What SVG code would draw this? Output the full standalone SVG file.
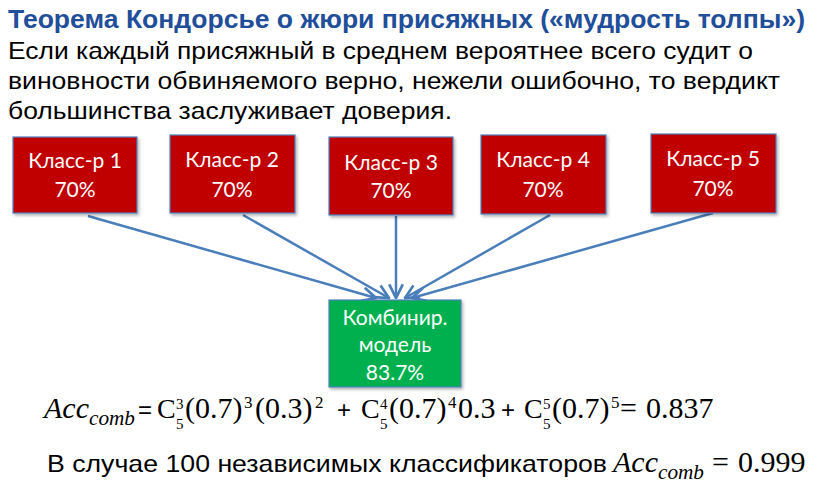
<svg xmlns="http://www.w3.org/2000/svg" width="821" height="483" viewBox="0 0 821 483">
<style>
.title{font-family:"Liberation Sans",Arial,sans-serif;font-weight:bold;font-size:25px;fill:#1F4E9A}
.body{font-family:"Liberation Sans",Arial,sans-serif;font-size:24px;fill:#000}
.box{fill:#C00000;stroke:#4F81BD;stroke-width:1.2}
.gbox{fill:#00B050;stroke:#4F81BD;stroke-width:1.2}
.lbl{font-family:Lato,"Open Sans",sans-serif;font-size:21px;fill:#fff;text-anchor:middle}
.conn{stroke:#4A7EBB;stroke-width:2.5;fill:none}
.m{font-family:"Liberation Serif","DejaVu Serif",serif;font-size:30px;fill:#000}
.mc{font-family:"Liberation Serif","DejaVu Serif",serif;font-size:28px;fill:#000}
.mi{font-family:"Liberation Serif","DejaVu Serif",serif;font-size:30px;font-style:italic;fill:#000}
.ms{font-family:"Liberation Serif","DejaVu Serif",serif;font-size:17px;fill:#000}
.mx{font-family:"Liberation Serif","DejaVu Serif",serif;font-size:15px;fill:#000}
.msi{font-family:"Liberation Serif","DejaVu Serif",serif;font-size:21px;font-style:italic;fill:#000}
.eq{font-family:"Liberation Sans",Arial,sans-serif;font-size:24px;fill:#000}
</style>
<defs>
<marker id="arr" viewBox="0 0 12 12" refX="11" refY="6" markerWidth="6.5" markerHeight="6.5" orient="auto" markerUnits="strokeWidth">
<polyline points="1,1 11,6 1,11" fill="none" stroke="#4A7EBB" stroke-width="2"/>
</marker>
<filter id="sh" x="-10%" y="-10%" width="130%" height="130%">
<feDropShadow dx="1.5" dy="2" stdDeviation="1.5" flood-color="#000" flood-opacity="0.3"/>
</filter>
</defs>
<rect width="821" height="483" fill="#fff"/>

<text class="title" x="8" y="28" textLength="797" lengthAdjust="spacingAndGlyphs">Теорема Кондорсье о жюри присяжных («мудрость толпы»)</text>
<text class="body" x="8" y="59" textLength="745" lengthAdjust="spacingAndGlyphs">Если каждый присяжный в среднем вероятнее всего судит о</text>
<text class="body" x="8" y="89" textLength="772" lengthAdjust="spacingAndGlyphs">виновности обвиняемого верно, нежели ошибочно, то вердикт</text>
<text class="body" x="8" y="119" textLength="444" lengthAdjust="spacingAndGlyphs">большинства заслуживает доверия.</text>

<g id="connectors">
<line class="conn" x1="88" y1="216" x2="376" y2="298" marker-end="url(#arr)"/>
<line class="conn" x1="243" y1="215" x2="389" y2="298" marker-end="url(#arr)"/>
<line class="conn" x1="396" y1="216" x2="396" y2="298" marker-end="url(#arr)"/>
<line class="conn" x1="550" y1="215" x2="405" y2="298" marker-end="url(#arr)"/>
<line class="conn" x1="713" y1="213" x2="412" y2="298" marker-end="url(#arr)"/>
</g>

<g id="clf1"><rect class="box" x="13" y="137" width="124" height="76" filter="url(#sh)"/>
<text class="lbl" x="75" y="168">Класс-р 1</text><text class="lbl" x="75" y="197">70%</text></g>
<g id="clf2"><rect class="box" x="170" y="135" width="125" height="78" filter="url(#sh)"/>
<text class="lbl" x="232" y="167">Класс-р 2</text><text class="lbl" x="232" y="197">70%</text></g>
<g id="clf3"><rect class="box" x="329" y="137" width="124" height="78" filter="url(#sh)"/>
<text class="lbl" x="391" y="170">Класс-р 3</text><text class="lbl" x="391" y="198">70%</text></g>
<g id="clf4"><rect class="box" x="481" y="135" width="125" height="79" filter="url(#sh)"/>
<text class="lbl" x="543" y="167">Класс-р 4</text><text class="lbl" x="543" y="197">70%</text></g>
<g id="clf5"><rect class="box" x="651" y="134" width="125" height="79" filter="url(#sh)"/>
<text class="lbl" x="713" y="166">Класс-р 5</text><text class="lbl" x="713" y="196">70%</text></g>

<g id="combined"><rect class="gbox" x="329" y="300" width="132" height="87" filter="url(#sh)"/>
<text class="lbl" x="395" y="325">Комбинир.</text>
<text class="lbl" x="395" y="352">модель</text>
<text class="lbl" x="395" y="380">83.7%</text></g>

<g id="formula">
<text class="mi" x="44" y="418">Acc</text>
<text class="msi" x="89" y="425" textLength="46" lengthAdjust="spacingAndGlyphs">comb</text>
<text class="eq" x="138" y="418">=</text>
<text class="mc" x="157" y="418">C</text>
<text class="mx" x="176" y="409">3</text><text class="mx" x="176" y="429">5</text>
<text class="m" x="185" y="418">(0.7)</text>
<text class="ms" x="244" y="408">3</text>
<text class="m" x="255" y="418">(0.3)</text>
<text class="ms" x="315" y="408">2</text>
<text class="eq" x="337" y="418">+</text>
<text class="mc" x="361" y="418">C</text>
<text class="mx" x="380" y="409">4</text><text class="mx" x="380" y="429">5</text>
<text class="m" x="389" y="418">(0.7)</text>
<text class="ms" x="448" y="408">4</text>
<text class="m" x="458" y="418">0.3</text>
<text class="eq" x="501" y="418">+</text>
<text class="mc" x="524" y="418">C</text>
<text class="mx" x="543" y="409">5</text><text class="mx" x="543" y="429">5</text>
<text class="m" x="552" y="418">(0.7)</text>
<text class="ms" x="611" y="408">5</text>
<text class="m" x="620" y="418">=</text>
<text class="m" x="646" y="418">0.837</text>
</g>

<g id="note">
<text class="body" x="47" y="472" textLength="560" lengthAdjust="spacingAndGlyphs">В случае 100 независимых классификаторов</text>
<text class="mi" x="613" y="472">Acc</text>
<text class="msi" x="658" y="479" textLength="46" lengthAdjust="spacingAndGlyphs">comb</text>
<text class="m" x="712" y="472">=</text>
<text class="m" x="738" y="472">0.999</text>
</g>
</svg>
